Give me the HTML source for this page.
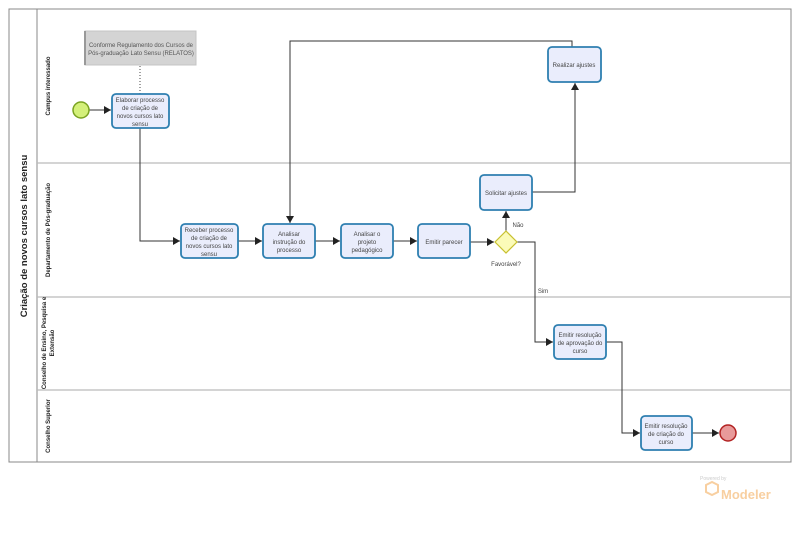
<!DOCTYPE html>
<html><head><meta charset="utf-8"><style>
body{margin:0;background:#fff;width:800px;height:545px;overflow:hidden;font-family:"Liberation Sans",sans-serif}
</style></head><body>
<svg width="800" height="545" xmlns="http://www.w3.org/2000/svg" font-family="Liberation Sans, sans-serif">
<defs><marker id="a" markerWidth="8" markerHeight="8" refX="7" refY="4" orient="auto" markerUnits="userSpaceOnUse"><path d="M0,0 L7,4 L0,8Z" fill="#222"/></marker></defs>
<rect x="9" y="9" width="782" height="453" fill="#fff" stroke="#888" stroke-width="1"/>
<line x1="37" y1="9" x2="37" y2="462" stroke="#888"/>
<g stroke="#bbb" stroke-width="1.2">
<line x1="37" y1="163" x2="791" y2="163"/><line x1="37" y1="297" x2="791" y2="297"/><line x1="37" y1="390" x2="791" y2="390"/>
</g>
<text transform="translate(27,236) rotate(-90)" font-size="9.5" font-weight="bold" text-anchor="middle" fill="#222">Criação de novos cursos lato sensu</text>
<g font-size="6" font-weight="bold" fill="#222" text-anchor="middle">
<text transform="translate(50,86) rotate(-90)">Campus interessado</text>
<text transform="translate(50,230) rotate(-90)">Departamento de Pós-graduação</text>
<text transform="translate(46,343) rotate(-90)">Conselho de Ensino, Pesquisa e</text>
<text transform="translate(54,343) rotate(-90)">Extensão</text>
<text transform="translate(50,426) rotate(-90)">Conselho Superior</text>
</g>
<rect x="85" y="31" width="111" height="34" fill="#d4d4d4" stroke="#c4c4c4"/>
<line x1="85" y1="31" x2="85" y2="65" stroke="#999" stroke-width="2"/>
<g font-size="6" fill="#555" text-anchor="middle"><text x="141" y="47">Conforme Regulamento dos Cursos de</text><text x="141" y="55">Pós-graduação Lato Sensu (RELATOS)</text></g>
<line x1="140" y1="66" x2="140" y2="94" stroke="#444" stroke-dasharray="1,2"/>
<g fill="none" stroke="#333" stroke-width="1">
<line x1="89" y1="110" x2="111" y2="110" marker-end="url(#a)"/>
<path d="M140,128 V241 H180" marker-end="url(#a)"/>
<line x1="238" y1="241" x2="262" y2="241" marker-end="url(#a)"/>
<line x1="315" y1="241" x2="340" y2="241" marker-end="url(#a)"/>
<line x1="393" y1="241" x2="417" y2="241" marker-end="url(#a)"/>
<line x1="470" y1="242" x2="494" y2="242" marker-end="url(#a)"/>
<line x1="506" y1="231" x2="506" y2="211" marker-end="url(#a)"/>
<path d="M532,192 H575 V83" marker-end="url(#a)"/>
<path d="M572,47 V41 H290 V223" marker-end="url(#a)"/>
<path d="M517,242 H535 V342 H553" marker-end="url(#a)"/>
<path d="M606,342 H622 V433 H640" marker-end="url(#a)"/>
<line x1="692" y1="433" x2="719" y2="433" marker-end="url(#a)"/>
</g>
<circle cx="81" cy="110" r="8" fill="#d4f07a" stroke="#7aa321" stroke-width="1.5"/>
<circle cx="728" cy="433" r="8" fill="#e89a9a" stroke="#b22222" stroke-width="1.5"/>
<path d="M506,231 L517,242 L506,253 L495,242Z" fill="#fbfbb8" stroke="#c8c030" stroke-width="1.2"/>
<g fill="#eaedfc" stroke="#2e7fb0" stroke-width="1.8">
<rect x="112" y="94" width="57" height="34" rx="4"/>
<rect x="181" y="224" width="57" height="34" rx="4"/>
<rect x="263" y="224" width="52" height="34" rx="4"/>
<rect x="341" y="224" width="52" height="34" rx="4"/>
<rect x="418" y="224" width="52" height="34" rx="4"/>
<rect x="480" y="175" width="52" height="35" rx="4"/>
<rect x="548" y="47" width="53" height="35" rx="4"/>
<rect x="554" y="325" width="52" height="34" rx="4"/>
<rect x="641" y="416" width="51" height="34" rx="4"/>
</g>
<g font-size="6" fill="#444" text-anchor="middle">
<text x="140" y="102">Elaborar processo</text><text x="140" y="110">de criação de</text><text x="140" y="118">novos cursos lato</text><text x="140" y="126">sensu</text>
<text x="209" y="232">Receber processo</text><text x="209" y="240">de criação de</text><text x="209" y="248">novos cursos lato</text><text x="209" y="256">sensu</text>
<text x="289" y="236">Analisar</text><text x="289" y="244">instrução do</text><text x="289" y="252">processo</text>
<text x="367" y="236">Analisar o</text><text x="367" y="244">projeto</text><text x="367" y="252">pedagógico</text>
<text x="444" y="244">Emitir parecer</text>
<text x="506" y="195">Solicitar ajustes</text>
<text x="574" y="67">Realizar ajustes</text>
<text x="580" y="337">Emitir resolução</text><text x="580" y="345">de aprovação do</text><text x="580" y="353">curso</text>
<text x="666" y="428">Emitir resolução</text><text x="666" y="436">de criação do</text><text x="666" y="444">curso</text>
<text x="506" y="266">Favorável?</text>
<text x="518" y="227">Não</text>
<text x="543" y="293">Sim</text>
</g>
<text x="700" y="480" font-size="5" fill="#ccc">Powered by</text>
<path d="M706,485 l6,-3 6,3 v7 l-6,3 -6,-3z" fill="none" stroke="#f8cfa0" stroke-width="2"/>
<text x="721" y="499" font-size="13" font-weight="bold" fill="#f8cfa0">Modeler</text>
</svg>
</body></html>
